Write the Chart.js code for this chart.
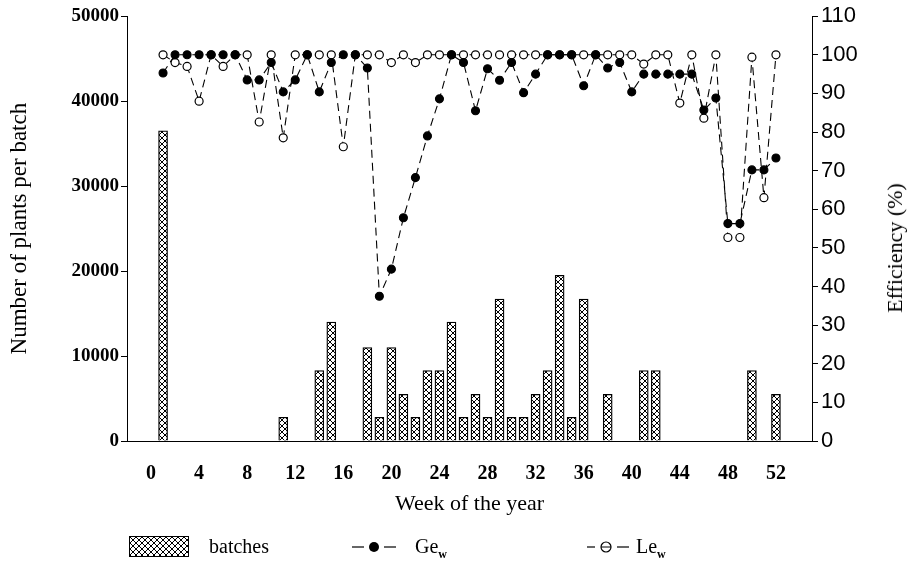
<!DOCTYPE html>
<html>
<head>
    <title>Batches and efficiency per week</title>
    <style>
        body{
            margin:0;
            background:white;
        }
        #wrap{
            position:relative;
            width:912px;
            height:568px;
        }
        .lbl{
            position:absolute;
            font-family:'Liberation Serif', serif;
            font-size:20px;
            color:#000;
            white-space:nowrap;
        }
        .lbl sub{
            font-size:12px;
            font-weight:bold;
        }
    </style>
</head>
<body>
<div id="wrap">
    <canvas id="chart"></canvas>
    <div class="lbl" id="rtitle" style="left:895px;top:248px;font-size:22px;transform:translate(-50%,-50%) rotate(-90deg);">Efficiency (%)</div>
    <div id="swatch" style="position:absolute;left:130px;top:537px;width:58px;height:19px;"></div>
    <div class="lbl" style="left:209px;top:535px;">batches</div>
    <svg style="position:absolute;left:350px;top:537px;" width="50" height="20">
        <line x1="2" y1="10" x2="14" y2="10" stroke="#000" stroke-width="1.2"/>
        <line x1="34" y1="10" x2="46" y2="10" stroke="#000" stroke-width="1.2"/>
        <circle cx="24" cy="10" r="5" fill="#000"/>
    </svg>
    <div class="lbl" style="left:415px;top:535px;">Ge<sub>w</sub></div>
    <svg style="position:absolute;left:585px;top:537px;" width="50" height="20">
        <line x1="2" y1="10" x2="10" y2="10" stroke="#000" stroke-width="1.2"/>
        <line x1="32" y1="10" x2="44" y2="10" stroke="#000" stroke-width="1.2"/>
        <circle cx="21" cy="10" r="5" fill="#fff" stroke="#000" stroke-width="1.2"/>
        <line x1="16" y1="10" x2="26" y2="10" stroke="#000" stroke-width="1"/>
    </svg>
    <div class="lbl" style="left:636px;top:535px;">Le<sub>w</sub></div>
</div>

<script src="https://cdn.jsdelivr.net/npm/chart.js@4.4.1/dist/chart.umd.min.js"></script>
<script>

    // week of the year
    const weeks = [1, 2, 3, 4, 5, 6, 7, 8, 9, 10, 11, 12, 13, 14, 15, 16, 17, 18, 19, 20, 21, 22, 23, 24, 25, 26,
        27, 28, 29, 30, 31, 32, 33, 34, 35, 36, 37, 38, 39, 40, 41, 42, 43, 44, 45, 46, 47, 48, 49, 50, 51, 52];

    // number of plants per batch (0 = no batch that week)
    const batches = [36500, 0, 0, 0, 0, 0, 0, 0, 0, 0, 2800, 0, 0, 8300, 14000, 0, 0, 11000, 2800, 11000, 5500, 2800, 8300, 8300, 14000, 2800,
        5500, 2800, 16700, 2800, 2800, 5500, 8300, 19500, 2800, 16700, 0, 5500, 0, 0, 8300, 8300, 0, 0, 0, 0, 0, 0, 0, 8300, 0, 5500];

    // efficiency (%)
    const geW = [95.3, 100, 100, 100, 100, 100, 100, 93.5, 93.5, 98, 90.4, 93.5, 100, 90.4, 98, 100, 100, 96.6, 37.5, 44.5, 57.8, 68.2, 79, 88.6, 100, 98,
        85.5, 96.4, 93.4, 98, 90.2, 95, 100, 100, 100, 92, 100, 96.6, 98, 90.4, 95, 95, 95, 95, 95, 85.7, 88.8, 56.3, 56.3, 70.2, 70.2, 73.3];
    const leW = [100, 98, 97, 88, 100, 97, 100, 100, 82.6, 100, 78.5, 100, 100, 100, 100, 76.2, 100, 100, 100, 98, 100, 98, 100, 100, 100, 100,
        100, 100, 100, 100, 100, 100, 100, 100, 100, 100, 100, 100, 100, 100, 97.6, 100, 100, 87.5, 100, 83.6, 100, 52.7, 52.7, 99.4, 63, 100];

    const weekTicks = [0, 4, 8, 12, 16, 20, 24, 28, 32, 36, 40, 44, 48, 52];

    function hatch() {
        const p = document.createElement('canvas');
        p.width = 6;
        p.height = 6;
        const c = p.getContext('2d');
        c.fillStyle = '#fff';
        c.fillRect(0, 0, 6, 6);
        c.strokeStyle = '#000';
        c.lineWidth = 1;
        c.beginPath();
        c.moveTo(0, 0); c.lineTo(6, 6);
        c.moveTo(6, 0); c.lineTo(0, 6);
        c.stroke();
        return p;
    }
    const hatchCanvas = hatch();
    const ctx = document.getElementById('chart').getContext('2d');
    const pattern = ctx.createPattern(hatchCanvas, 'repeat');

    document.getElementById('swatch').style.background = 'url(' + hatchCanvas.toDataURL() + ')';
    document.getElementById('swatch').style.outline = '1px solid #000';

    const pairs = (ys) => weeks.map((w, i) => ({x: w, y: ys[i]}));

    Chart.defaults.font.family = "'Liberation Serif', serif";
    Chart.defaults.color = '#000';

    new Chart(ctx, {
        data: {
            datasets: [{
                type: 'line',
                label: 'Gew',
                data: pairs(geW),
                yAxisID: 'y1',
                borderColor: '#000',
                borderWidth: 1.1,
                borderDash: [8, 5],
                pointRadius: 4,
                pointBackgroundColor: '#000',
                pointBorderColor: '#000',
                tension: 0,
                order: 0
            }, {
                type: 'line',
                label: 'Lew',
                data: pairs(leW),
                yAxisID: 'y1',
                borderColor: '#000',
                borderWidth: 1.1,
                borderDash: [8, 5],
                pointRadius: 4,
                pointBackgroundColor: '#fff',
                pointBorderColor: '#000',
                pointBorderWidth: 1.2,
                tension: 0,
                order: 1
            }, {
                type: 'bar',
                label: 'batches',
                data: pairs(batches).filter(d => d.y > 0),
                yAxisID: 'y',
                backgroundColor: pattern,
                borderColor: '#000',
                borderWidth: 1.3,
                borderSkipped: 'bottom',
                barThickness: 9,
                order: 2
            }]
        },
        options: {
            responsive: true,
            maintainAspectRatio: false,
            animation: false,
            layout: {padding: {top: 15, left: 0, right: 0, bottom: 0}},
            plugins: {legend: {display: false}, tooltip: {enabled: false}},
            scales: {
                x: {
                    type: 'linear',
                    offset: false,
                    min: -2,
                    max: 55,
                    afterBuildTicks: (s) => { s.ticks = weekTicks.map(v => ({value: v})); },
                    afterFit: (s) => { s.height = 127; },
                    grid: {display: false},
                    border: {display: true, color: '#000', width: 1},
                    ticks: {font: {size: 20, weight: 'bold'}, padding: 13, maxRotation: 0, autoSkip: false},
                    title: {display: true, text: 'Week of the year', font: {size: 22}, padding: {bottom: 51}}
                },
                y: {
                    position: 'left',
                    min: 0,
                    max: 50000,
                    afterFit: (s) => { s.width = 127; },
                    grid: {drawOnChartArea: false, color: '#000', tickLength: 6},
                    border: {display: true, color: '#000', width: 1},
                    ticks: {stepSize: 10000, font: {size: 19, weight: 'bold'}, padding: 2, callback: (v) => String(v)},
                    title: {display: true, text: 'Number of plants per batch', font: {size: 23}, padding: {top: 6}}
                },
                y1: {
                    position: 'right',
                    min: 0,
                    max: 110,
                    afterFit: (s) => { s.width = 100; },
                    grid: {drawOnChartArea: false, color: '#000', tickLength: 6},
                    border: {display: true, color: '#000', width: 1},
                    ticks: {stepSize: 10, font: {family: "'Liberation Sans Narrow', 'Liberation Sans', sans-serif", size: 22}, padding: 3}
                }
            }
        }
    });

</script>
</body>
</html>
